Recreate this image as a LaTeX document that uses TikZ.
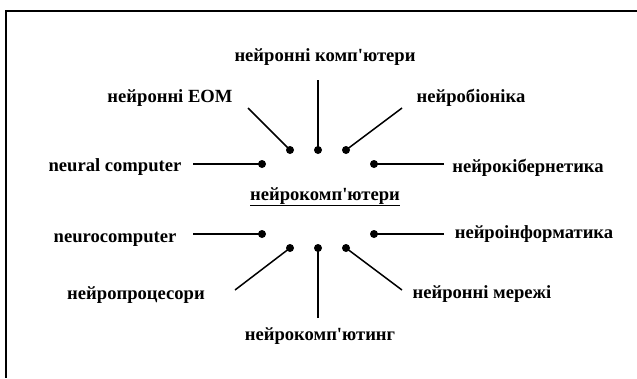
\documentclass[tikz,border=0pt]{standalone}
\usepackage{fontspec}
\setmainfont{Liberation Serif}
\newcommand\ap{\textquotesingle}
\begin{document}
\begin{tikzpicture}[x=1pt,y=-1pt,
  lbl/.style={font=\fontsize{18.6}{20}\selectfont\bfseries, anchor=mid, inner sep=0pt},
  dot/.style={circle, fill=black, inner sep=0pt, minimum size=8pt},
  conn/.style={line width=1.5pt},
  frame/.style={line width=1.4pt}]
\useasboundingbox (0,0) rectangle (637,378);
\draw[frame] (637,11) -- (6,11) -- (6,378);
% dots
\node[dot] (t1) at (290,150) {};
\node[dot] (t2) at (318,150) {};
\node[dot] (t3) at (346,150) {};
\node[dot] (l1) at (262,164) {};
\node[dot] (r1) at (374,164) {};
\node[dot] (l2) at (262,234) {};
\node[dot] (r2) at (374,234) {};
\node[dot] (b1) at (290,248) {};
\node[dot] (b2) at (318,248) {};
\node[dot] (b3) at (346,248) {};
% labels
\node[lbl] (center) at (325,198) {\underline{нейрокомп\ap ютери}};
\node[lbl] (nk) at (325,59) {нейронні комп\ap ютери};
\node[lbl] (neom) at (170,100) {нейронні ЕОМ};
\node[lbl] (nc) at (115,169) {neural computer};
\node[lbl] (nb) at (471,100) {нейробіоніка};
\node[lbl] (nkib) at (528,170) {нейрокібернетика};
\node[lbl] (ncomp) at (115,240) {neurocomputer};
\node[lbl] (nproc) at (136,297) {нейропроцесори};
\node[lbl] (nkt) at (320,338) {нейрокомп\ap ютинг};
\node[lbl] (ninf) at (534,236) {нейроінформатика};
\node[lbl] (nmer) at (482,296) {нейронні мережі};
% free ends
\coordinate (e1) at (248,108);
\coordinate (e2) at (318,80);
\coordinate (e3) at (402,108);
\coordinate (e4) at (193,164);
\coordinate (e5) at (444,164);
\coordinate (e6) at (193,234);
\coordinate (e7) at (444,234);
\coordinate (e8) at (235,290);
\coordinate (e9) at (318,318);
\coordinate (e10) at (402,290);
\draw[conn] (e1) -- (t1.center);
\draw[conn] (e2) -- (t2.center);
\draw[conn] (e3) -- (t3.center);
\draw[conn] (e4) -- (l1.center);
\draw[conn] (e5) -- (r1.center);
\draw[conn] (e6) -- (l2.center);
\draw[conn] (e7) -- (r2.center);
\draw[conn] (e8) -- (b1.center);
\draw[conn] (e9) -- (b2.center);
\draw[conn] (e10) -- (b3.center);
\end{tikzpicture}
\end{document}
